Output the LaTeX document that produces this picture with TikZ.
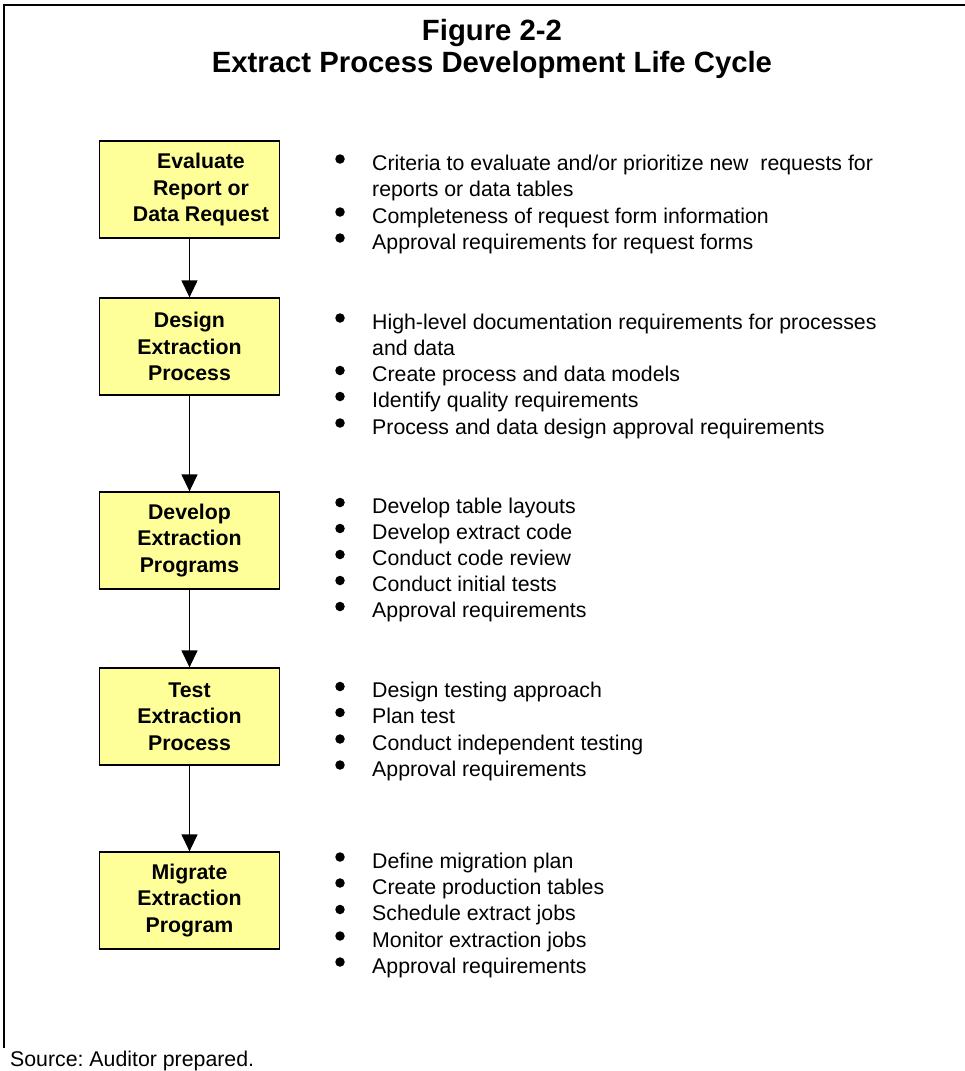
\documentclass[tikz,border=0pt]{standalone}
\usepackage{fontspec}
\setmainfont{Liberation Sans}
\usetikzlibrary{arrows.meta}
\definecolor{boxyellow}{HTML}{FFFF99}
\frenchspacing
\begin{document}
\begin{tikzpicture}[x=1pt,y=-1pt,
  stepbox/.style={draw=black,line width=1.3pt,fill=boxyellow,minimum width=180pt,minimum height=97pt,inner sep=0pt},
  boxtxt/.style={font=\fontsize{21.3}{26.3}\selectfont\bfseries,align=center,inner sep=0pt},
  itm/.style={anchor=base west,inner sep=0pt,font=\fontsize{21.3}{26}\selectfont},
  bul/.style={circle,fill=black,inner sep=0pt,minimum size=9.5pt},
  ttl/.style={anchor=base,inner sep=0pt,font=\fontsize{29.3}{32}\selectfont\bfseries},
  flow/.style={line width=1.3pt,-{Triangle[length=17pt,width=16pt]}}]
\useasboundingbox (0,0) rectangle (965,1071);
\fill[white] (0,0) rectangle (965,1071);
\draw[line width=2.2pt] (4,1048) -- (4,5) -- (965,5);

% title
\node[ttl] (t1) at (492,40) {Figure 2-2};
\node[ttl] (t2) at (492,72) {Extract Process Development Life Cycle};

% boxes
\node[stepbox] (b1) at (189.5,189.5) {};
\node[boxtxt] (b1t) at (201,189.5) {Evaluate\\Report or\\Data Request};
\node[stepbox,boxtxt,draw=black,fill=boxyellow,inner sep=0pt] (b2) at (189.5,346.5) {Design\\Extraction\\Process};
\node[stepbox,boxtxt,draw=black,fill=boxyellow,inner sep=0pt] (b3) at (189.5,540.5) {Develop\\Extraction\\Programs};
\node[stepbox,boxtxt,draw=black,fill=boxyellow,inner sep=0pt] (b4) at (189.5,716.5) {Test\\Extraction\\Process};
\node[stepbox,boxtxt,draw=black,fill=boxyellow,inner sep=0pt] (b5) at (189.5,900.5) {Migrate\\Extraction\\Program};

% arrows
\draw[flow] (b1.south) -- (b2.north);
\draw[flow] (b2.south) -- (b3.north);
\draw[flow] (b3.south) -- (b4.north);
\draw[flow] (b4.south) -- (b5.north);

% group 1
\node[bul] (p11) at (340,159) {};
\node[itm] (l11) at (372,170) {Criteria to evaluate and/or prioritize new\ \ requests for};
\node[itm] (l12) at (372,196.5) {reports or data tables};
\node[bul] (p13) at (340,212) {};
\node[itm] (l13) at (372,223) {Completeness of request form information};
\node[bul] (p14) at (340,238) {};
\node[itm] (l14) at (372,249) {Approval requirements for request forms};

% group 2
\node[bul] (p21) at (340,318) {};
\node[itm] (l21) at (372,329.5) {High-level documentation requirements for processes};
\node[itm] (l22) at (372,355.5) {and data};
\node[bul] (p23) at (340,370.5) {};
\node[itm] (l23) at (372,381.5) {Create process and data models};
\node[bul] (p24) at (340,396.5) {};
\node[itm] (l24) at (372,407.5) {Identify quality requirements};
\node[bul] (p25) at (340,423) {};
\node[itm] (l25) at (372,434) {Process and data design approval requirements};

% group 3
\node[bul] (p31) at (340,502.5) {};
\node[itm] (l31) at (372,513.5) {Develop table layouts};
\node[bul] (p32) at (340,528.5) {};
\node[itm] (l32) at (372,539.5) {Develop extract code};
\node[bul] (p33) at (340,554.5) {};
\node[itm] (l33) at (372,565.5) {Conduct code review};
\node[bul] (p34) at (340,580.5) {};
\node[itm] (l34) at (372,591.5) {Conduct initial tests};
\node[bul] (p35) at (340,606.5) {};
\node[itm] (l35) at (372,617.5) {Approval requirements};

% group 4
\node[bul] (p41) at (340,686.5) {};
\node[itm] (l41) at (372,697.5) {Design testing approach};
\node[bul] (p42) at (340,712.5) {};
\node[itm] (l42) at (372,723.5) {Plan test};
\node[bul] (p43) at (340,739) {};
\node[itm] (l43) at (372,750) {Conduct independent testing};
\node[bul] (p44) at (340,765) {};
\node[itm] (l44) at (372,776) {Approval requirements};

% group 5
\node[bul] (p51) at (340,857) {};
\node[itm] (l51) at (372,868) {Define migration plan};
\node[bul] (p52) at (340,883) {};
\node[itm] (l52) at (372,894) {Create production tables};
\node[bul] (p53) at (340,909.5) {};
\node[itm] (l53) at (372,920.5) {Schedule extract jobs};
\node[bul] (p54) at (340,936) {};
\node[itm] (l54) at (372,947) {Monitor extraction jobs};
\node[bul] (p55) at (340,962) {};
\node[itm] (l55) at (372,973) {Approval requirements};

% source
\node[itm] (src) at (10,1066) {Source: Auditor prepared.};
\end{tikzpicture}
\end{document}
